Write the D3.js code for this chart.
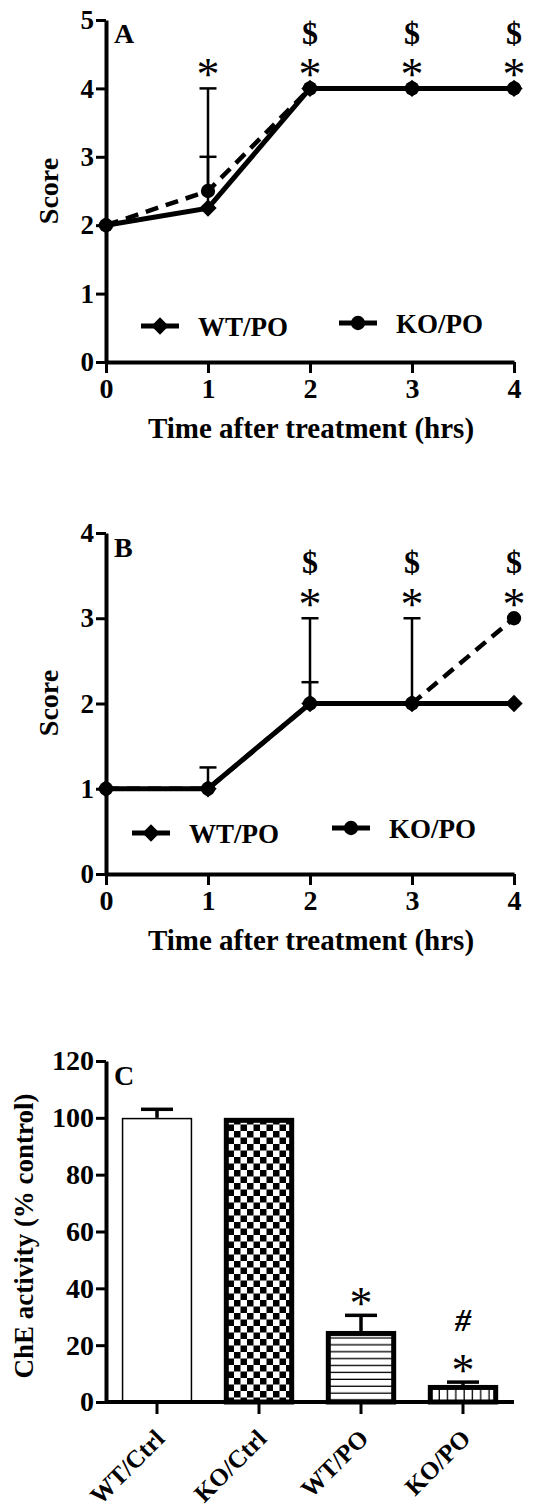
<!DOCTYPE html>
<html lang="en">
  <head>
    <meta charset="UTF-8" />
    <title>Score and ChE activity</title>
    <script src="https://cdn.jsdelivr.net/npm/d3@7"></script>
    <style>
      body { margin: 0; background: #fff; }
      svg text { font-family: "Liberation Serif", "Times New Roman", serif; font-weight: bold; fill: #000; }
      .axis path, .axis line { stroke: #000; }
    </style>
  </head>
  <body>
    <div id="chart"></div>

    <script>
      // panel A / B : neurological score vs time
      const hours = [0, 1, 2, 3, 4];
      const scoreA_WT = [2, 2.25, 4, 4, 4];
      const scoreA_KO = [2, 2.5, 4, 4, 4];
      const errA_WT = [0, 0.75, 0, 0, 0];
      const errA_KO = [0, 1.5, 0, 0, 0];
      const starA = [false, true, true, true, true];
      const dollarA = [false, false, true, true, true];

      const scoreB_WT = [1, 1, 2, 2, 2];
      const scoreB_KO = [1, 1, 2, 2, 3];
      const errB_WT = [0, 0.25, 0.25, 0, 0];
      const errB_KO = [0, 0, 1, 1, 0];
      const starB = [false, false, true, true, true];
      const dollarB = [false, false, true, true, true];

      // panel C : ChE activity
      const groups = ["WT/Ctrl", "KO/Ctrl", "WT/PO", "KO/PO"];
      const che = [100, 100, 25, 6];
      const cheErr = [3, 0, 5.5, 1];
      const starC = [false, false, true, true];
      const hashC = [false, false, false, true];

      const W = 534, H = 1511;
      const svg = d3.select("#chart").append("svg")
        .attr("width", W).attr("height", H);

      const defs = svg.append("defs");
      // checker fill
      const chk = defs.append("pattern").attr("id", "checker")
        .attr("patternUnits", "userSpaceOnUse").attr("width", 13).attr("height", 13);
      chk.append("rect").attr("width", 13).attr("height", 13).attr("fill", "#fff");
      chk.append("rect").attr("width", 6.5).attr("height", 6.5).attr("fill", "#000");
      chk.append("rect").attr("x", 6.5).attr("y", 6.5).attr("width", 6.5).attr("height", 6.5).attr("fill", "#000");
      // horizontal lines
      const hl = defs.append("pattern").attr("id", "hlines")
        .attr("patternUnits", "userSpaceOnUse").attr("width", 10).attr("height", 6.9);
      hl.append("rect").attr("width", 10).attr("height", 6.9).attr("fill", "#fff");
      hl.append("rect").attr("y", 5.6).attr("width", 10).attr("height", 1.3).attr("fill", "#000");
      // vertical lines
      const vl = defs.append("pattern").attr("id", "vlines")
        .attr("patternUnits", "userSpaceOnUse").attr("width", 8.3).attr("height", 10);
      vl.append("rect").attr("width", 8.3).attr("height", 10).attr("fill", "#fff");
      vl.append("rect").attr("x", 7).attr("width", 1.3).attr("height", 10).attr("fill", "#000");

      const diamond = d3.symbol().type(d3.symbolSquare).size(150);
      const circle = d3.symbol().type(d3.symbolCircle).size(160);

      const STAR = 46, DOLLAR = 32;

      function styleAxis(g, fs) {
        g.attr("class", "axis").attr("font-family", null).attr("font-size", null);
        g.select(".domain").attr("stroke-width", 4);
        g.selectAll(".tick line").attr("stroke-width", 3);
        g.selectAll(".tick text").style("font-size", fs + "px");
      }

      // asterisk / dollar centred on cy
      function mark(g, x, cy, ch, fs, k) {
        return g.append("text").attr("x", x).attr("y", cy + k * fs)
          .attr("text-anchor", "middle").style("font-size", fs + "px").text(ch);
      }

      function linePanel(o) {
        const x = d3.scaleLinear().domain([0, 4]).range([106, 514]);
        const y = d3.scaleLinear().domain([0, o.ymax]).range([o.y0, o.y1]);
        const g = svg.append("g");

        g.append("g").attr("transform", "translate(106,0)")
          .call(d3.axisLeft(y).ticks(o.ymax).tickSize(10).tickSizeOuter(0).tickPadding(2).tickFormat(d3.format("d")))
          .call(a => styleAxis(a, 27));
        g.append("g").attr("transform", `translate(0,${o.y0})`)
          .call(d3.axisBottom(x).ticks(4).tickSize(11).tickSizeOuter(0).tickPadding(5).tickFormat(d3.format("d")))
          .call(a => styleAxis(a, 28));

        g.append("text").attr("x", 311).attr("y", o.y0 + 76).attr("text-anchor", "middle")
          .style("font-size", "29px").text("Time after treatment (hrs)");
        g.append("text").attr("transform", `translate(58,${o.ytitle}) rotate(-90)`)
          .attr("text-anchor", "middle").style("font-size", "28px").text("Score");
        g.append("text").attr("x", 114).attr("y", o.y1 + o.letterDy)
          .style("font-size", "28px").text(o.letter);

        // error bars (upward only)
        const eb = [];
        hours.forEach((h, i) => {
          if (o.errWT[i] > 0) eb.push([h, o.wt[i], o.wt[i] + o.errWT[i]]);
          if (o.errKO[i] > 0) eb.push([h, o.ko[i], o.ko[i] + o.errKO[i]]);
        });
        const ebg = g.append("g").attr("stroke", "#000").attr("stroke-width", 2.5);
        ebg.selectAll("line.v").data(eb).join("line")
          .attr("x1", d => x(d[0])).attr("x2", d => x(d[0]))
          .attr("y1", d => y(d[1])).attr("y2", d => y(d[2]));
        ebg.selectAll("line.c").data(eb).join("line")
          .attr("x1", d => x(d[0]) - 8.5).attr("x2", d => x(d[0]) + 8.5)
          .attr("y1", d => y(d[2])).attr("y2", d => y(d[2]));

        const line = d3.line().x((d, i) => x(hours[i])).y(d => y(d));
        g.append("path").datum(o.wt).attr("d", line).attr("fill", "none")
          .attr("stroke", "#000").attr("stroke-width", 5);
        g.append("path").datum(o.ko).attr("d", line).attr("fill", "none")
          .attr("stroke", "#000").attr("stroke-width", 4.5).attr("stroke-dasharray", "13,8");

        g.selectAll("path.wt").data(o.wt).join("path")
          .attr("d", diamond)
          .attr("transform", (d, i) => `translate(${x(hours[i])},${y(d)}) rotate(45)`);
        g.selectAll("path.ko").data(o.ko).join("path")
          .attr("d", circle)
          .attr("transform", (d, i) => `translate(${x(hours[i])},${y(d)})`);

        // significance marks
        hours.forEach((h, i) => {
          const top = y(Math.max(o.wt[i] + o.errWT[i], o.ko[i] + o.errKO[i]));
          if (o.star[i]) mark(g, x(h), top - 20, "*", STAR, 0.47).style("font-weight", "normal");
          if (o.dollar[i]) mark(g, x(h), top - 56, "$", DOLLAR, 0.35);
        });

        // legend
        const lg = g.append("g");
        o.legend.forEach(l => {
          lg.append("line").attr("x1", l.x).attr("x2", l.x + 38).attr("y1", l.y).attr("y2", l.y)
            .attr("stroke", "#000").attr("stroke-width", 5);
          lg.append("path").attr("d", l.sym)
            .attr("transform", `translate(${l.x + 19},${l.y})` + (l.sym === diamond ? " rotate(45)" : ""));
          lg.append("text").attr("x", l.x + 57).attr("y", l.y + 10)
            .style("font-size", "27px").text(l.label);
        });
      }

      linePanel({
        ymax: 5, y0: 362, y1: 20, ytitle: 191, letter: "A", letterDy: 23,
        wt: scoreA_WT, ko: scoreA_KO, errWT: errA_WT, errKO: errA_KO, star: starA, dollar: dollarA,
        legend: [{ x: 141, y: 326, sym: diamond, label: "WT/PO" }, { x: 339, y: 323, sym: circle, label: "KO/PO" }]
      });
      linePanel({
        ymax: 4, y0: 874, y1: 533, ytitle: 703, letter: "B", letterDy: 24,
        wt: scoreB_WT, ko: scoreB_KO, errWT: errB_WT, errKO: errB_KO, star: starB, dollar: dollarB,
        legend: [{ x: 132, y: 833, sym: diamond, label: "WT/PO" }, { x: 332, y: 828, sym: circle, label: "KO/PO" }]
      });

      // panel C
      const xc = d3.scaleBand().domain(groups).range([106, 514]).paddingInner(0.31).paddingOuter(0.155);
      const yc = d3.scaleLinear().domain([0, 120]).range([1402, 1061]);
      const gc = svg.append("g");
      const fills = ["#fff", "url(#checker)", "url(#hlines)", "url(#vlines)"];
      const strokes = [1.5, 5, 5, 5];

      gc.selectAll("rect.bar").data(groups).join("rect")
        .attr("x", (d, i) => xc(d) + strokes[i] / 2)
        .attr("width", (d, i) => xc.bandwidth() - strokes[i])
        .attr("y", (d, i) => yc(che[i]) + strokes[i] / 2)
        .attr("height", (d, i) => yc(0) - yc(che[i]) - strokes[i] / 2)
        .attr("fill", (d, i) => fills[i])
        .attr("stroke", "#000").attr("stroke-width", (d, i) => strokes[i]);

      const ebc = gc.append("g").attr("stroke", "#000").attr("stroke-width", 3.5);
      groups.forEach((gname, i) => {
        if (cheErr[i] <= 0) return;
        const cx = xc(gname) + xc.bandwidth() / 2;
        const top = yc(che[i] + cheErr[i]);
        ebc.append("line").attr("x1", cx).attr("x2", cx).attr("y1", yc(che[i])).attr("y2", top);
        ebc.append("line").attr("x1", cx - 16).attr("x2", cx + 16).attr("y1", top).attr("y2", top);
        if (starC[i]) mark(gc, cx, top - 18, "*", STAR, 0.47).style("font-weight", "normal");
        if (hashC[i]) mark(gc, cx, top - 62, "#", 32, 0.33).style("font-style", "italic");
      });

      gc.append("g").attr("transform", "translate(106,0)")
        .call(d3.axisLeft(yc).tickValues([0, 20, 40, 60, 80, 100, 120]).tickSize(10).tickSizeOuter(0).tickPadding(2))
        .call(a => styleAxis(a, 28));
      const xa = gc.append("g").attr("transform", "translate(0,1402)")
        .call(d3.axisBottom(xc).tickSize(12).tickSizeOuter(0))
        .call(a => styleAxis(a, 25));
      xa.select(".domain").attr("d", "M106,0H514");
      xa.selectAll(".tick text")
        .attr("text-anchor", "end").attr("dy", null).attr("y", null)
        .attr("transform", "translate(9,38) rotate(-45)");

      gc.append("text").attr("transform", "translate(33,1236) rotate(-90)")
        .attr("text-anchor", "middle").style("font-size", "27px").text("ChE activity (% control)");
      gc.append("text").attr("x", 114).attr("y", 1085).style("font-size", "28px").text("C");
    </script>
  </body>
</html>
